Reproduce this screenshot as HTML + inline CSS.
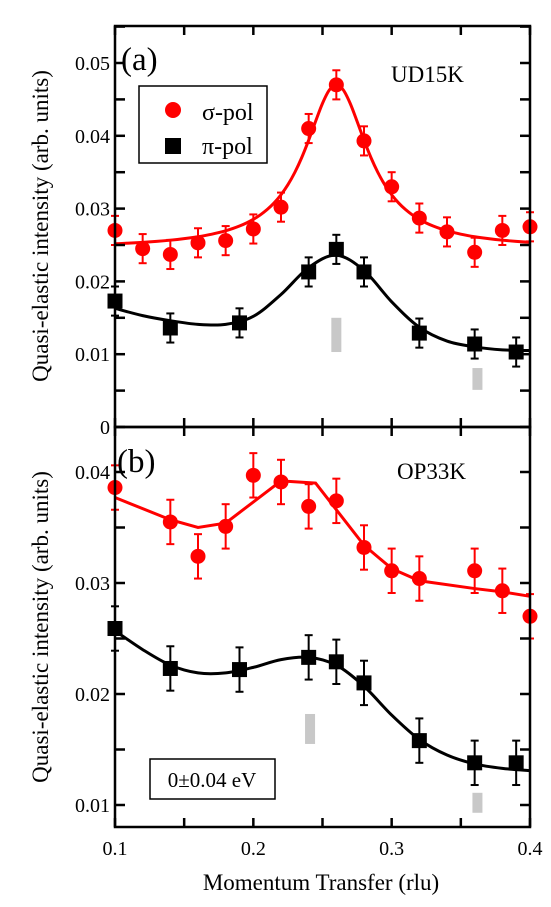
<!DOCTYPE html>
<html><head><meta charset="utf-8">
<style>
body{margin:0;background:#fff;width:551px;height:907px;overflow:hidden}
svg{display:block;font-family:"Liberation Serif",serif}
</style></head><body>
<svg id="c" width="551" height="907"></svg>
<script>
const sigAx=[0.1,0.12,0.14,0.16,0.18,0.2,0.22,0.24,0.26,0.28,0.30,0.32,0.34,0.36,0.38,0.40];
const sigAy=[0.027,0.0245,0.0237,0.0253,0.0256,0.0272,0.0302,0.041,0.047,0.0393,0.033,0.0287,0.0268,0.024,0.027,0.0275];
const piAx=[0.1,0.14,0.19,0.24,0.26,0.28,0.32,0.36,0.39];
const piAy=[0.0173,0.0136,0.0143,0.0213,0.0244,0.0213,0.0129,0.0114,0.0103];
const fitSigA=[0.0245,0.0225,0.26,0.028];
const fitPiAx=[0.1,0.12,0.14,0.16,0.18,0.2,0.22,0.24,0.26,0.28,0.3,0.32,0.34,0.36,0.38,0.4];
const fitPiAy=[0.0163,0.0153,0.0146,0.0141,0.0141,0.0152,0.0182,0.0219,0.0236,0.0215,0.0172,0.0137,0.0118,0.011,0.0106,0.0105];
const sigBx=[0.1,0.14,0.16,0.18,0.2,0.22,0.24,0.26,0.28,0.30,0.32,0.36,0.38,0.40];
const sigBy=[0.0386,0.0355,0.0324,0.0351,0.0397,0.0391,0.0369,0.0374,0.0332,0.0311,0.0304,0.0311,0.0293,0.027];
const fitSigBx=[0.1,0.14,0.16,0.18,0.22,0.245,0.28,0.30,0.32,0.36,0.38,0.40];
const fitSigBy=[0.0377,0.0357,0.0350,0.0354,0.0392,0.0390,0.0334,0.0313,0.0302,0.0295,0.0292,0.0288];
const piBx=[0.1,0.14,0.19,0.24,0.26,0.28,0.32,0.36,0.39];
const piBy=[0.0259,0.0223,0.0222,0.0233,0.0229,0.0210,0.0158,0.0138,0.0138];
const fitPiBx=[0.1,0.12,0.14,0.16,0.18,0.2,0.22,0.24,0.26,0.28,0.3,0.32,0.34,0.36,0.38,0.4];
const fitPiBy=[0.0257,0.024,0.0226,0.0219,0.0219,0.0224,0.0231,0.0233,0.0226,0.0207,0.0181,0.0159,0.0145,0.0137,0.0133,0.0131];
const barsA=[[0.26,0.0103,0.015],[0.362,0.0051,0.0081]];
const barsB=[[0.241,0.0155,0.0182],[0.362,0.0093,0.0111]];
const errA=0.002, errB=0.002;
const yTicksA=["0","0.01","0.02","0.03","0.04","0.05"];
const yTicksB=["0.01","0.02","0.03","0.04"];
const xTicks=["0.1","0.2","0.3","0.4"];

const svg=document.getElementById('c');const NS='http://www.w3.org/2000/svg';
function E(t,a,p){const e=document.createElementNS(NS,t);for(const k in a)e.setAttribute(k,a[k]);(p||svg).appendChild(e);return e;}
const L=115,R=530;
const X=v=>L+(v-0.1)/0.3*(R-L);
const YA=v=>427-v*7280;
const YB=v=>805-(v-0.01)*11100;
function frame(top,bot,name){
  const r=E('rect',{x:L,y:top,width:R-L,height:bot-top,fill:'none',stroke:'#000','stroke-width':2.5});
  
  for(let i=0;i<=6;i++){const x=X(0.1+i*0.05);
    E('line',{x1:x,y1:top,x2:x,y2:top+9,stroke:'#000','stroke-width':2.5});
    E('line',{x1:x,y1:bot,x2:x,y2:bot-9,stroke:'#000','stroke-width':2.5});}
}
function yticks(Y,vals,lo,hi,labs,name){
  const g=E('g',{});
  for(let v=lo;v<=hi+1e-9;v+=0.005){const y=Y(v);
    E('line',{x1:L,y1:y,x2:L+10,y2:y,stroke:'#000','stroke-width':2.5},g);
    E('line',{x1:R,y1:y,x2:R-10,y2:y,stroke:'#000','stroke-width':2.5},g);}
  labs.forEach(s=>{const t=E('text',{x:L-5,y:Y(+s)+7,'text-anchor':'end','font-size':20},g);t.textContent=s;});
}
function smooth(xs,ys,Y){let d='';const p=xs.map((x,i)=>[X(x),Y(ys[i])]);
  d='M'+p[0];for(let i=0;i<p.length-1;i++){const p0=p[Math.max(0,i-1)],p1=p[i],p2=p[i+1],p3=p[Math.min(p.length-1,i+2)];
  d+=' C'+(p1[0]+(p2[0]-p0[0])/6)+','+(p1[1]+(p2[1]-p0[1])/6)+' '+(p2[0]-(p3[0]-p1[0])/6)+','+(p2[1]-(p3[1]-p1[1])/6)+' '+p2;}return d;}
function line(d,col,name){const e=E('path',{d:d,fill:'none',stroke:col,'stroke-width':3});}
function pts(xs,ys,Y,err,col,shape,name){
  const g=E('g',{});
  xs.forEach((x,i)=>{const cx=X(x),cy=Y(ys[i]),y1=Y(ys[i]+err),y2=Y(ys[i]-err);
    E('line',{x1:cx,y1:y1,x2:cx,y2:y2,stroke:col,'stroke-width':2},g);
    E('line',{x1:cx-4,y1:y1,x2:cx+4,y2:y1,stroke:col,'stroke-width':2},g);
    E('line',{x1:cx-4,y1:y2,x2:cx+4,y2:y2,stroke:col,'stroke-width':2},g);
    let m;if(shape=='c')m=E('circle',{cx:cx,cy:cy,r:7.5,fill:col},g);else m=E('rect',{x:cx-7.5,y:cy-7.5,width:15,height:15,fill:col},g);
    });
}
function bars(b,Y,name){b.forEach(v=>{const r=E('rect',{x:X(v[0])-5,y:Y(v[2]),width:10,height:Y(v[1])-Y(v[2]),fill:'#c8c8c8'});
  });}
function txt(s,x,y,size,name,anchor){const t=E('text',{x:x,y:y,'font-size':size,'text-anchor':anchor||'start'});t.textContent=s;return t;}

// panel a
bars(barsA,YA,'marker-bar-a');
const sa=[],sx=[];for(let x=0.1;x<=0.4001;x+=0.005){sx.push(x);sa.push(fitSigA[0]+fitSigA[1]/(1+((x-fitSigA[2])/fitSigA[3])**2));}
line(smooth(sx,sa,YA),'#f00','sigma-fit-a');
line(smooth(fitPiAx,fitPiAy,YA),'#000','pi-fit-a');
pts(sigAx,sigAy,YA,errA,'#f00','c','sigma-points-a');
pts(piAx,piAy,YA,errA,'#000','s','pi-points-a');
frame(26,427,'panel-a-frame');
yticks(YA,null,0,0.055,yTicksA,'y-axis-a');
txt('(a)',121,70,33,'panel-a-label');
txt('UD15K',391,82,23,'sample-label-a');
const lg=E('rect',{x:139,y:86,width:128,height:77,fill:'#fff',stroke:'#000','stroke-width':1.5});
E('circle',{cx:173,cy:110,r:8,fill:'#f00'});E('rect',{x:165,y:138,width:16,height:16,fill:'#000'});
txt('σ-pol',202,120,24,'legend-sigma');txt('π-pol',202,154,24,'legend-pi');
// panel b
bars(barsB,YB,'marker-bar-b');
line('M'+fitSigBx.map((x,i)=>X(x)+','+YB(fitSigBy[i])).join(' L'),'#f00','sigma-fit-b');
line(smooth(fitPiBx,fitPiBy,YB),'#000','pi-fit-b');
pts(sigBx,sigBy,YB,errB,'#f00','c','sigma-points-b');
pts(piBx,piBy,YB,errB,'#000','s','pi-points-b');
frame(427,827,'panel-b-frame');
yticks(YB,null,0.01,0.044,yTicksB,'y-axis-b');
txt('(b)',117,472,33,'panel-b-label');
txt('OP33K',397,479,23,'sample-label-b');
const eb=E('rect',{x:150,y:759,width:125,height:40,fill:'#fff',stroke:'#000','stroke-width':1.5});
txt('0±0.04 eV',212,787,21,'energy-label','middle');
xTicks.forEach(s=>txt(s,X(+s),855,20,'x-tick-label','middle'));
txt('Momentum Transfer (rlu)',321,890,23,'x-axis-title','middle');
let t=txt('Quasi-elastic intensity (arb. units)',0,0,23,'y-axis-title-a','middle');t.setAttribute('transform','translate(48,226) rotate(-90)');
t=txt('Quasi-elastic intensity (arb. units)',0,0,23,'y-axis-title-b','middle');t.setAttribute('transform','translate(48,627) rotate(-90)');
</script>
</body></html>
